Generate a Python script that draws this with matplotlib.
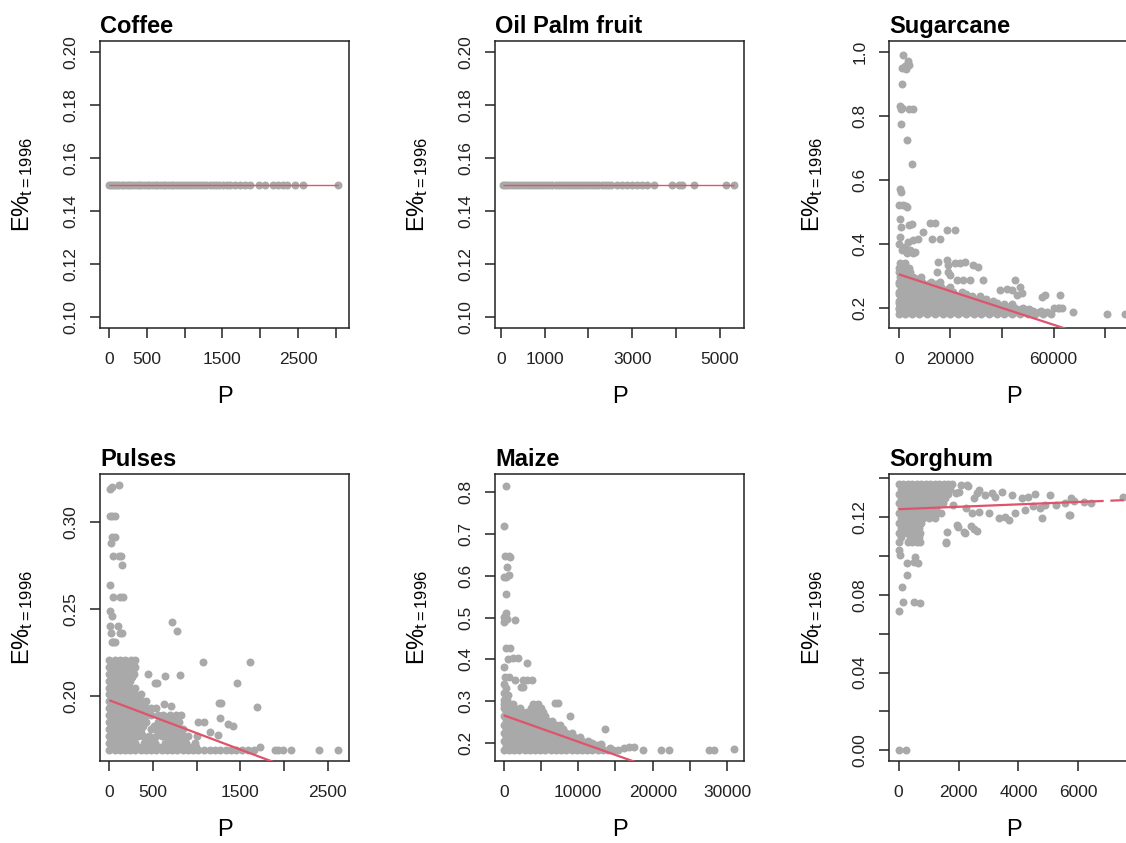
import numpy as np
import matplotlib
matplotlib.use("Agg")
import matplotlib.pyplot as plt

plt.rcParams['font.family'] = ['Liberation Sans', 'DejaVu Sans']
plt.rcParams['mathtext.fontset'] = 'custom'
plt.rcParams['mathtext.rm'] = 'Liberation Sans'
plt.rcParams['mathtext.it'] = 'Liberation Sans:italic'
plt.rcParams['mathtext.bf'] = 'Liberation Sans:bold'

PT_COLOR = '#A9A9A9'
LINE_COLOR = '#DF536B'

# ------------------------------------------------------------------ data
# Coffee: every point sits at E% = 0.15
coffee_level = 0.15
coffee_P = [5, 25, 55, 80, 110, 140, 175, 205, 240, 270, 300, 335, 370, 400, 430, 465,
            500, 535, 570, 605, 640, 675, 710, 745, 780, 815, 850, 890, 925, 960, 1000,
            1040, 1080, 1120, 1160, 1200, 1240, 1285, 1330, 1370, 1415, 1460, 1511, 1560,
            1599, 1665, 1731, 1797, 1863, 1986, 2061, 2171, 2236, 2302, 2347, 2456, 2558, 3028]

# Oil palm fruit: every point sits at E% = 0.15
oil_level = 0.15
oil_P = [45, 90, 150, 210, 270, 340, 410, 480, 550, 620, 690, 760, 830, 900, 970, 1040,
         1110, 1180, 1250, 1320, 1390, 1460, 1530, 1600, 1670, 1740, 1810, 1880, 1950,
         2020, 2090, 2160, 2230, 2300, 2370, 2440, 2510, 2653, 2768, 2882, 2996, 3110,
         3225, 3340, 3507, 3911, 4063, 4140, 4406, 5146, 5320]

# Sugarcane: dense band (E% level -> P values) and scattered points
sug_rows = {
    0.180: [0, 2500, 5000, 8000, 11000, 14000, 17000, 20000, 23000, 26000, 29000, 32000,
            35000, 38000, 41000, 44000, 47000, 50000, 53000, 56000, 59000],
    0.185: [1500, 4000, 6500, 9500, 12500, 15500, 18500, 21500, 24500, 27500, 30500, 33500,
            36500, 39500, 42500, 45500, 48500, 51500, 54500, 57500],
    0.190: [1000, 4000, 7000, 10000, 13000, 16000, 19000, 22000, 25000, 28000, 31000,
            34000, 37000, 40000, 43000, 46000, 49000, 52000, 55000],
    0.195: [0, 2500, 5500, 8500, 11500, 14500, 17500, 20500, 23500, 26500, 29500, 32500,
            35500, 38500, 41500, 44500, 47500, 50500],
    0.200: [0, 3000, 6000, 9000, 12000, 15000, 18000, 21000, 24000, 27000, 30000, 33000,
            36000, 39000, 42000, 45000, 48000],
    0.205: [1000, 4000, 7000, 10000, 13000, 16000, 19000, 22000, 25000, 28000, 31000,
            34000, 37000, 40000, 43000],
    0.210: [1500, 4500, 7500, 10500, 13500, 16500, 19500, 22500, 25500, 28500, 31500,
            34500, 37500, 41000, 44000],
    0.215: [0, 3000, 6000, 9000, 12000, 15000, 18000, 21000, 24000, 27000, 30000, 33000, 38000],
    0.220: [0, 3000, 6000, 9000, 12000, 15000, 18000, 21000, 24000, 27000, 30000, 33000, 36500],
    0.228: [1000, 4000, 7000, 10000, 13000, 16000, 19000, 22000, 25000, 29000, 34000],
    0.235: [1500, 4500, 7500, 10500, 13500, 16500, 19500, 22500, 25500, 28500, 31500],
    0.243: [0, 3000, 6000, 9000, 12000, 15000, 18000, 21000, 26000],
    0.250: [0, 3000, 6000, 9000, 12000, 15000, 18000, 21000, 24500],
    0.258: [1000, 4000, 7000, 10000, 13000, 16000, 19000],
    0.265: [1500, 4500, 7500, 10500, 13500, 16500, 20000],
    0.273: [0, 3000, 6000, 9000, 11500, 14500],
    0.280: [0, 3000, 6000, 9000, 12500, 16000],
    0.288: [1000, 4000, 7000],
    0.295: [500, 3000, 5500, 8500],
    0.310: [0, 2000, 4500],
    0.325: [0, 2000, 4000],
    0.340: [500, 2500],
}
sug_P = [1800, 1200, 2400, 3000, 3700, 4000, 1160, 600, 1000, 1300, 4100, 5660, 800, 3100,
         5280, 600, 800, 120, 1800, 2700, 3100, 600, 800, 3900, 5300, 9540, 12100, 14100,
         18600, 21800, 12800, 16000, 500, 3700, 5660, 7600, 2440, 4380, 6300, 1160, 3100,
         5660, 100, 15300, 18600, 19200, 21800, 23800, 25700, 28900, 30900, 14700, 19200,
         19900, 22500, 25000, 27600, 32800, 45100, 39300, 41900, 43800, 47000, 47700, 45700,
         55400, 56700, 62500, 61900, 63200, 67700, 60000, 62000, 80600, 87700]
sug_E = [0.990, 0.950, 0.955, 0.945, 0.970, 0.960, 0.900, 0.830, 0.820, 0.825, 0.820, 0.820,
         0.775, 0.724, 0.650, 0.570, 0.560, 0.520, 0.520, 0.518, 0.515, 0.478, 0.452, 0.458,
         0.461, 0.437, 0.463, 0.463, 0.442, 0.442, 0.413, 0.413, 0.421, 0.405, 0.410, 0.413,
         0.390, 0.379, 0.374, 0.379, 0.369, 0.369, 0.400, 0.343, 0.348, 0.332, 0.338, 0.338,
         0.343, 0.332, 0.327, 0.311, 0.311, 0.301, 0.285, 0.285, 0.285, 0.285, 0.285, 0.254,
         0.259, 0.254, 0.264, 0.244, 0.238, 0.233, 0.238, 0.238, 0.200, 0.197, 0.186, 0.200,
         0.200, 0.181, 0.181]

# Pulses
pul_rows = {
    0.169: [0, 60, 120, 180, 240, 300, 360, 420, 480, 540, 600, 660, 720, 780, 840, 900,
            960, 1020, 1080, 1150, 1210, 1270, 1330, 1390, 1450, 1520, 1590, 1650],
    0.171: [30, 90, 150, 210, 270, 330, 390, 450, 510, 570, 630, 690, 750, 810, 870, 930, 990],
    0.173: [0, 60, 120, 180, 240, 300, 400, 460, 520, 640, 700, 760, 820, 880, 980],
    0.175: [30, 90, 150, 210, 270, 430, 490, 670, 730, 790, 850],
    0.177: [0, 60, 120, 180, 240, 330, 390, 450, 540, 600, 660, 720, 780, 840, 900, 1000],
    0.179: [30, 90, 150, 210, 270, 360, 570, 630, 690, 750, 810],
    0.181: [0, 60, 120, 180, 240, 300, 360, 480, 540, 600, 660, 720, 780, 840],
    0.183: [30, 90, 150, 210, 270, 330, 390, 510, 570, 630, 700, 770],
    0.185: [0, 60, 120, 180, 240, 300, 360, 420, 560, 620, 680, 740, 800, 1020, 1080],
    0.187: [30, 90, 150, 210, 270, 330, 390, 590, 650, 720],
    0.189: [0, 60, 120, 180, 240, 300, 360, 420, 480, 560, 620, 700, 760, 820],
    0.191: [30, 90, 150, 210, 270, 330, 390, 450],
    0.193: [0, 60, 120, 180, 240, 300, 360, 420, 480, 540],
    0.195: [30, 90, 150, 210, 270, 330, 390],
    0.197: [0, 60, 120, 180, 240, 300, 360, 420],
    0.199: [30, 90, 150, 210, 270, 330],
    0.201: [0, 60, 120, 180, 240, 300, 360],
    0.203: [30, 90, 150, 210, 270],
    0.205: [0, 60, 120, 180, 240, 290],
    0.207: [30, 90, 150, 210],
    0.209: [0, 60, 120, 180, 240],
    0.211: [30, 90, 150, 210, 260],
    0.213: [0, 60, 120, 180, 240, 280],
    0.215: [30, 90, 150, 210, 270],
    0.217: [0, 60, 120, 180, 240, 300],
    0.219: [30, 90, 150, 210, 270],
    0.221: [0, 60, 120, 180, 250, 290],
}
pul_P = [8, 27, 115, 8, 30, 65, 27, 65, 15, 46, 130, 110, 140, 8, 46, 122, 160, 8, 30, 8,
         20, 100, 120, 150, 40, 60, 30, 714, 771, 1068, 1610, 1465, 1694, 446, 542, 525,
         637, 809, 630, 702, 1256, 1275, 1267, 1362, 1419, 1247, 1152, 1725, 1895, 1934,
         1991, 2075, 2403, 2620]
pul_E = [0.3187, 0.3196, 0.3211, 0.3034, 0.3034, 0.3034, 0.2910, 0.2910, 0.2876, 0.2806,
         0.2806, 0.2806, 0.2749, 0.2638, 0.2570, 0.2570, 0.2570, 0.2490, 0.2460, 0.2400,
         0.2360, 0.2400, 0.2360, 0.2360, 0.2313, 0.2313, 0.2313, 0.2425, 0.2373, 0.2194,
         0.2194, 0.2076, 0.1939, 0.2126, 0.2076, 0.2076, 0.2114, 0.2120, 0.1954, 0.1943,
         0.1962, 0.1962, 0.1876, 0.1840, 0.1829, 0.1780, 0.1796, 0.1710, 0.1690, 0.1690,
         0.1690, 0.1690, 0.1690, 0.1690]

# Maize
mai_rows = {
    0.183: [0, 700, 1400, 2100, 2800, 3500, 4200, 4900, 5600, 6300, 7000, 7700, 8400, 9100,
            9800, 10500, 11200, 11900, 12600, 13300, 14000, 14700, 15400],
    0.193: [300, 1000, 1700, 2400, 3100, 3800, 4500, 5200, 5900, 6600, 7300, 8000, 8700,
            9400, 10100, 10800, 11500, 12300, 13000],
    0.203: [0, 700, 1400, 2100, 2800, 3500, 4200, 4900, 5600, 6300, 7000, 7700, 8400, 9100,
            9800, 10500, 11300],
    0.213: [300, 1000, 1700, 2400, 3100, 3800, 4500, 5200, 5900, 6600, 7300, 8000, 8700,
            9400, 10200],
    0.223: [0, 700, 1400, 2100, 2800, 3500, 4200, 4900, 5600, 6300, 7000, 7700, 8400, 9200],
    0.233: [300, 1000, 1700, 2400, 3100, 3800, 4500, 5200, 5900, 6600, 7300, 8000],
    0.243: [0, 700, 1400, 2100, 2800, 3500, 4200, 4900, 5600, 6300, 7000, 7600],
    0.253: [300, 1000, 1700, 2400, 3100, 3800, 4500, 5200, 5900, 6500],
    0.263: [0, 700, 1400, 2100, 2800, 3500, 4200, 4900, 5600],
    0.273: [300, 1000, 1700, 2400, 3100, 3800, 4500, 5300],
    0.283: [0, 700, 1400, 2200, 3600, 4300, 5000],
    0.293: [0, 600, 1300, 3900, 4600],
    0.303: [0, 500],
}
mai_P = [310, 0, 200, 650, 900, 400, 310, 760, 0, 310, 310, 0, 90, 400, 1500, 310, 850, 600,
         1290, 1965, 3095, 0, 200, 650, 1500, 2650, 3100, 3770, 2300, 2650, 0, 300, 0, 600,
         6900, 7350, 8920, 13540, 14300, 16100, 16800, 17500, 18650, 21170, 22150, 27540,
         28210, 30900, 11800, 12500, 13000]
mai_E = [0.815, 0.719, 0.647, 0.647, 0.645, 0.621, 0.597, 0.601, 0.597, 0.556, 0.511, 0.501,
         0.489, 0.497, 0.495, 0.426, 0.426, 0.400, 0.403, 0.403, 0.390, 0.382, 0.358, 0.358,
         0.350, 0.350, 0.350, 0.350, 0.334, 0.334, 0.340, 0.330, 0.320, 0.315, 0.296, 0.296,
         0.264, 0.232, 0.187, 0.186, 0.190, 0.190, 0.183, 0.183, 0.183, 0.183, 0.183, 0.184,
         0.200, 0.195, 0.197]

# Sorghum
sor_rows = {
    0.1370: [0, 150, 300, 450, 600, 750, 900, 1050, 1200, 1350, 1500, 1650, 1780],
    0.1345: [70, 220, 370, 520, 670, 820, 970, 1120, 1270, 1420, 1570, 1720],
    0.1320: [0, 150, 300, 450, 600, 750, 900, 1050, 1200, 1350, 1500, 1650],
    0.1295: [70, 220, 370, 520, 670, 820, 970, 1120, 1270, 1420, 1560],
    0.1270: [0, 150, 300, 450, 600, 750, 900, 1050, 1200, 1350, 1480],
    0.1245: [70, 220, 370, 520, 670, 820, 970, 1120, 1250],
    0.1220: [0, 150, 300, 450, 600, 750, 900, 1050, 1250, 1400],
    0.1195: [70, 220, 370, 520, 670, 820, 1000, 1200],
    0.1170: [0, 150, 300, 450, 600, 750],
    0.1145: [70, 220, 370, 520, 670],
    0.1120: [0, 150, 300, 450, 600, 720],
    0.1095: [70, 370, 520, 670],
    0.1070: [0, 300, 450, 600, 700],
}
sor_P = [20, 250, 10, 150, 130, 505, 700, 285, 20, 60, 285, 505, 660, 560, 1580, 1990, 2210,
         2405, 2625, 1600, 2075, 2320, 2680, 3450, 4550, 5045, 4770, 5725, 6415, 7500,
         2295, 2020, 1910, 2625, 2515, 2900, 3120, 3230, 3780, 4110, 4330, 5260, 5760, 5870,
         6200, 1800, 2240, 2460, 2680, 3010, 3340, 3560, 3890, 4220, 4490, 4715, 4880, 5540,
         5700, 3670, 1965, 2190, 1580, 2515]
sor_E = [0.0, 0.0, 0.0718, 0.0765, 0.0842, 0.0765, 0.0756, 0.0902, 0.1030, 0.1005, 0.0962,
         0.0970, 0.0965, 0.0996, 0.1068, 0.1150, 0.1120, 0.1154, 0.1128, 0.1125, 0.1365,
         0.1360, 0.1340, 0.1330, 0.1320, 0.1313, 0.1197, 0.1210, 0.1274, 0.1303,
         0.1365, 0.1330, 0.1322, 0.1322, 0.1297, 0.1313, 0.1322, 0.1305, 0.1313, 0.1297,
         0.1305, 0.1262, 0.1297, 0.1280, 0.1275, 0.1262, 0.1245, 0.1220, 0.1228, 0.1220,
         0.1194, 0.1202, 0.1220, 0.1237, 0.1254, 0.1245, 0.1262, 0.1271, 0.1211, 0.1185,
         0.1159, 0.1124, 0.1070, 0.1140]

# fitted lines: (intercept, slope, P start, P end of solid part, P end of dashed part)
fits = {
    'Coffee': (0.15, 0.0, 0, 3028, None),
    'Oil Palm fruit': (0.15, 0.0, 45, 5320, None),
    'Sugarcane': (0.304, -2.63e-6, 0, 89000, None),
    'Pulses': (0.1977, -1.884e-5, 0, 2620, None),
    'Maize': (0.2656, -6.34e-6, 0, 31000, None),
    'Sorghum': (0.124, 6.2e-7, 0, 6400, 8000),
}

# axis set-up
x_ticks = {
    'Coffee': ([0, 500, 1000, 1500, 2000, 2500, 3000], ['0', '500', '', '1500', '', '2500', '']),
    'Oil Palm fruit': ([0, 1000, 2000, 3000, 4000, 5000], ['0', '1000', '', '3000', '', '5000']),
    'Sugarcane': ([0, 20000, 40000, 60000, 80000], ['0', '20000', '', '60000', '']),
    'Pulses': ([0, 500, 1000, 1500, 2000, 2500], ['0', '500', '', '1500', '', '2500']),
    'Maize': ([0, 5000, 10000, 15000, 20000, 25000, 30000], ['0', '', '10000', '', '20000', '', '30000']),
    'Sorghum': ([0, 2000, 4000, 6000, 8000], ['0', '2000', '4000', '6000', '']),
}
y_ticks = {
    'Coffee': ([0.10, 0.12, 0.14, 0.16, 0.18, 0.20], ['0.10', '0.12', '0.14', '0.16', '0.18', '0.20']),
    'Oil Palm fruit': ([0.10, 0.12, 0.14, 0.16, 0.18, 0.20], ['0.10', '0.12', '0.14', '0.16', '0.18', '0.20']),
    'Sugarcane': ([0.2, 0.4, 0.6, 0.8, 1.0], ['0.2', '0.4', '0.6', '0.8', '1.0']),
    'Pulses': ([0.20, 0.25, 0.30], ['0.20', '0.25', '0.30']),
    'Maize': ([0.2, 0.3, 0.4, 0.5, 0.6, 0.7, 0.8], ['0.2', '0.3', '0.4', '0.5', '0.6', '0.7', '0.8']),
    'Sorghum': ([0.0, 0.02, 0.04, 0.06, 0.08, 0.10, 0.12, 0.14],
                ['0.00', '', '0.04', '', '0.08', '', '0.12', '']),
}
x_lims = {'Coffee': (-115, 3168), 'Oil Palm fruit': (-130, 5549), 'Sugarcane': (-3640, 92850),
          'Pulses': (-106, 2742), 'Maize': (-1170, 32250), 'Sorghum': (-310, 7900)}
y_lims = {'Coffee': (0.0957, 0.2043), 'Oil Palm fruit': (0.0957, 0.2043),
          'Sugarcane': (0.136, 1.0335), 'Pulses': (0.1629, 0.3273),
          'Maize': (0.156, 0.844), 'Sorghum': (-0.0055, 0.1421)}


def rows_to_xy(rows):
    xs, ys = [], []
    for lvl, pts in rows.items():
        xs.extend(pts)
        ys.extend([lvl] * len(pts))
    return xs, ys


data = {}
data['Coffee'] = (coffee_P, [coffee_level] * len(coffee_P))
data['Oil Palm fruit'] = (oil_P, [oil_level] * len(oil_P))
for name, rows, px, ey in [('Sugarcane', sug_rows, sug_P, sug_E),
                           ('Pulses', pul_rows, pul_P, pul_E),
                           ('Maize', mai_rows, mai_P, mai_E),
                           ('Sorghum', sor_rows, sor_P, sor_E)]:
    rx, ry = rows_to_xy(rows)
    data[name] = (rx + px, ry + ey)

# ------------------------------------------------------------------ layout
W, H = 1126, 843
fig = plt.figure(figsize=(W / 100, H / 100), dpi=100)
fig.patch.set_facecolor('white')

AW, AH = 249, 287
positions = {'Coffee': (100, 41), 'Oil Palm fruit': (495, 41), 'Sugarcane': (889.3, 41),
             'Pulses': (100, 474), 'Maize': (495, 474), 'Sorghum': (889.3, 474)}

for name in ['Coffee', 'Oil Palm fruit', 'Sugarcane', 'Pulses', 'Maize', 'Sorghum']:
    L, T = positions[name]
    ax = fig.add_axes([L / W, 1 - (T + AH) / H, AW / W, AH / H])
    xs, ys = data[name]
    ax.scatter(xs, ys, s=33, color=PT_COLOR, linewidths=0, zorder=2)

    a, b, x0, x1, x2 = fits[name]
    lw = 1.0 if b == 0 else 1.6
    lx = np.array([x0, x1], dtype=float)
    ax.plot(lx, a + b * lx, color=LINE_COLOR, lw=lw, zorder=3, solid_capstyle='butt')
    if x2 is not None:
        dx = np.array([x1, x2], dtype=float)
        ax.plot(dx, a + b * dx, color=LINE_COLOR, lw=lw, ls=(0, (6, 3)), zorder=3)

    ax.set_xlim(*x_lims[name])
    ax.set_ylim(*y_lims[name])
    xt, xl = x_ticks[name]
    yt, yl = y_ticks[name]
    ax.set_xticks(xt)
    ax.set_xticklabels(xl)
    ax.set_yticks(yt)
    ax.set_yticklabels(yl, rotation=90, va='center')
    ax.tick_params(axis='both', direction='out', length=7.2, width=1.1, labelsize=12.5,
                   color='#222222', labelcolor='#222222')
    ax.tick_params(axis='x', pad=10.0)
    ax.tick_params(axis='y', pad=8.5)
    for sp in ax.spines.values():
        sp.set_linewidth(1.1)
        sp.set_color('#222222')

    ax.set_title(name, loc='left', fontsize=17, fontweight='bold', pad=5.8)
    ax.set_xlabel('P', fontsize=17)
    ax.xaxis.set_label_coords(0.5, -69 / AH)
    ax.xaxis.label.set_va('center')
    ax.set_ylabel(r'E%$_{\mathrm{t=1996}}$', fontsize=17)
    ax.yaxis.set_label_coords(-77 / AW, 0.5)
    ax.yaxis.label.set_va('center')

fig.savefig('out.png', dpi=100, facecolor='white')
